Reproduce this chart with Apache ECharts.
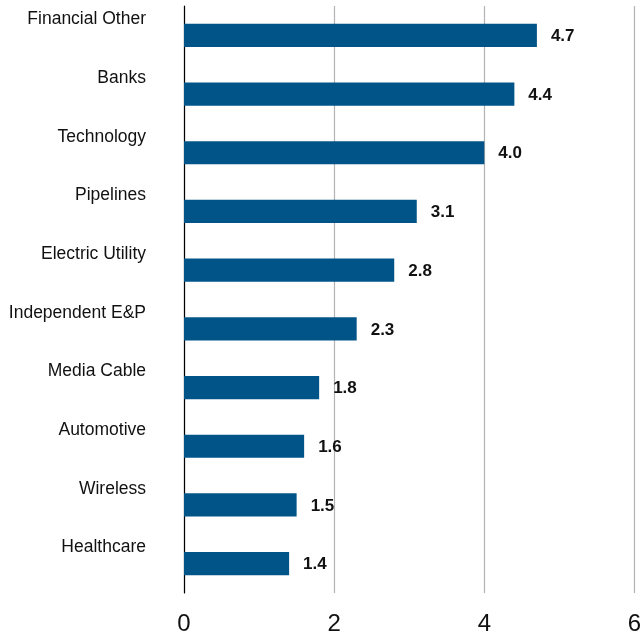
<!DOCTYPE html>
<html>
<head>
<meta charset="utf-8">
<script src="https://cdn.jsdelivr.net/npm/echarts@6/dist/echarts.min.js"></script>
<style>html,body{margin:0;padding:0;background:#fff}#c{width:642px;height:643px}</style>
</head>
<body>
<div id="c"></div>
<script>
var categories = ["Financial Other","Banks","Technology","Pipelines","Electric Utility","Independent E&P","Media Cable","Automotive","Wireless","Healthcare"];
var values = [4.7,4.4,4.0,3.1,2.8,2.3,1.8,1.6,1.5,1.4];
var xTicks = [0,2,4,6];
var FONT = '"Liberation Sans", Arial, sans-serif';
var chart = echarts.init(document.getElementById('c'));
chart.setOption({
  animation: false,
  grid: {left: 184, right: 7.5, top: 6, bottom: 50, containLabel: false, outerBoundsMode: 'none'},
  xAxis: {
    type: 'value', min: xTicks[0], max: xTicks[xTicks.length-1], interval: 2,
    axisLine: {show: false}, axisTick: {show: false},
    axisLabel: {fontFamily: FONT, fontSize: 24, color: '#111', margin: 19},
    splitLine: {lineStyle: {color: '#b3b3b3', width: 1.2}}
  },
  yAxis: {
    type: 'category', data: categories, inverse: true,
    axisLine: {show: true, lineStyle: {color: '#000', width: 1.2}},
    axisTick: {show: false},
    axisLabel: {fontFamily: FONT, fontSize: 17.5, color: '#111', margin: 38, verticalAlign: 'bottom', lineHeight: 32}
  },
  series: [{
    type: 'bar', data: values, barWidth: '39.5%',
    itemStyle: {color: '#005488'},
    label: {show: true, position: 'right', distance: 14, offset: [0, 1], fontFamily: FONT, fontSize: 17, fontWeight: 'bold', color: '#111',
      formatter: function(p){ return p.value.toFixed(1); }}
  }]
});
</script>
</body>
</html>
